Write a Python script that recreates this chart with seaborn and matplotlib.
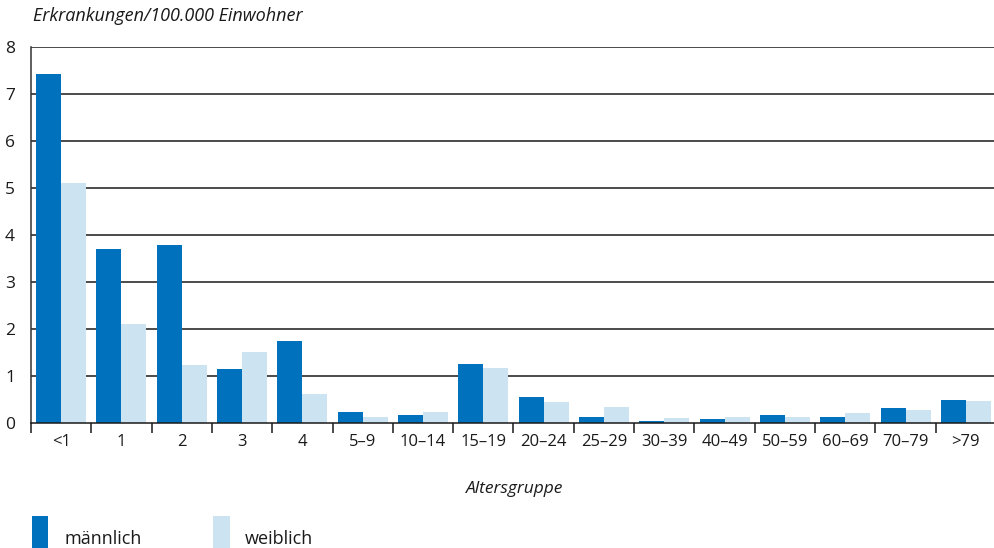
import matplotlib
matplotlib.use("Agg")
import matplotlib.pyplot as plt
import seaborn as sns
import pandas as pd
from matplotlib.patches import Rectangle

categories = ["<1", "1", "2", "3", "4", "5–9", "10–14", "15–19", "20–24", "25–29",
              "30–39", "40–49", "50–59", "60–69", "70–79", ">79"]
maennlich = [7.43, 3.70, 3.79, 1.15, 1.74, 0.23, 0.16, 1.26, 0.55, 0.12,
             0.05, 0.08, 0.16, 0.12, 0.31, 0.48]
weiblich = [5.10, 2.10, 1.23, 1.51, 0.62, 0.13, 0.23, 1.18, 0.45, 0.33,
            0.11, 0.12, 0.12, 0.22, 0.28, 0.47]
series_names = ["männlich", "weiblich"]
colors = ["#0071bc", "#cce3f1"]

df = pd.DataFrame({
    "Altersgruppe": categories * 2,
    "Wert": maennlich + weiblich,
    "Geschlecht": [series_names[0]] * len(categories) + [series_names[1]] * len(categories),
})

sns.set_theme(style="white")
plt.rcParams["font.family"] = ["Open Sans", "DejaVu Sans"]

fig = plt.figure(figsize=(9.95, 5.48), dpi=100)
ax = fig.add_axes([31 / 995, 1 - 423 / 548, 965 / 995, 376 / 548])

sns.barplot(data=df, x="Altersgruppe", y="Wert", hue="Geschlecht",
            palette=colors, order=categories, hue_order=series_names,
            width=0.83, gap=0, saturation=1, linewidth=0, ax=ax, legend=False)

ax.set_ylim(0, 8)
ax.set_xlim(-0.5, len(categories) - 0.5)
ax.set_yticks(range(0, 9))
for y in range(1, 9):
    ax.axhline(y, color="#1a1a1a", lw=1.1, zorder=0)
ax.set_axisbelow(True)

for s in ["top", "right"]:
    ax.spines[s].set_visible(False)
ax.spines["left"].set_color("#333333")
ax.spines["left"].set_linewidth(1.1)
ax.spines["bottom"].set_color("#1a1a1a")
ax.spines["bottom"].set_linewidth(1.1)

ax.set_xticks(range(len(categories)))
ax.set_xticklabels(categories)
ax.set_xticks([i - 0.5 for i in range(len(categories) + 1)], minor=True)
ax.tick_params(axis="x", which="major", length=0, pad=8, labelsize=12, colors="#1a1a1a")
ax.tick_params(axis="x", which="minor", length=7, width=1.1, color="#1a1a1a", direction="out", bottom=True)
ax.tick_params(axis="y", length=0, labelsize=12.5, colors="#1a1a1a")
for lab in ax.get_yticklabels():
    lab.set_horizontalalignment("left")
ax.tick_params(axis="y", pad=23)

ax.set_xlabel("")
ax.set_ylabel("")

fig.text(33 / 995, 1 - 16 / 548, "Erkrankungen/100.000 Einwohner", fontsize=13,
         style="italic", color="#1a1a1a", va="center", ha="left")
fig.text(515 / 995, 1 - 489 / 548, "Altersgruppe", fontsize=12.5, style="italic",
         color="#1a1a1a", va="center", ha="center")

# legend
fig.patches.append(Rectangle((32 / 995, 0), 16 / 995, 32 / 548, transform=fig.transFigure,
                             facecolor=colors[0], edgecolor="none"))
fig.text(64 / 995, 1 - 539 / 548, series_names[0], fontsize=13, color="#1a1a1a", va="center")
fig.patches.append(Rectangle((213 / 995, 0), 17 / 995, 32 / 548, transform=fig.transFigure,
                             facecolor=colors[1], edgecolor="none"))
fig.text(245 / 995, 1 - 539 / 548, series_names[1], fontsize=13, color="#1a1a1a", va="center")

fig.canvas.draw()
# shift y tick labels slightly to the right to match reference placement
import matplotlib.transforms as mtransforms
offset = mtransforms.ScaledTranslation(6 / 100, 0, fig.dpi_scale_trans)
for lab in ax.get_yticklabels():
    lab.set_transform(lab.get_transform() + offset)

fig.savefig("out.png", dpi=100)
